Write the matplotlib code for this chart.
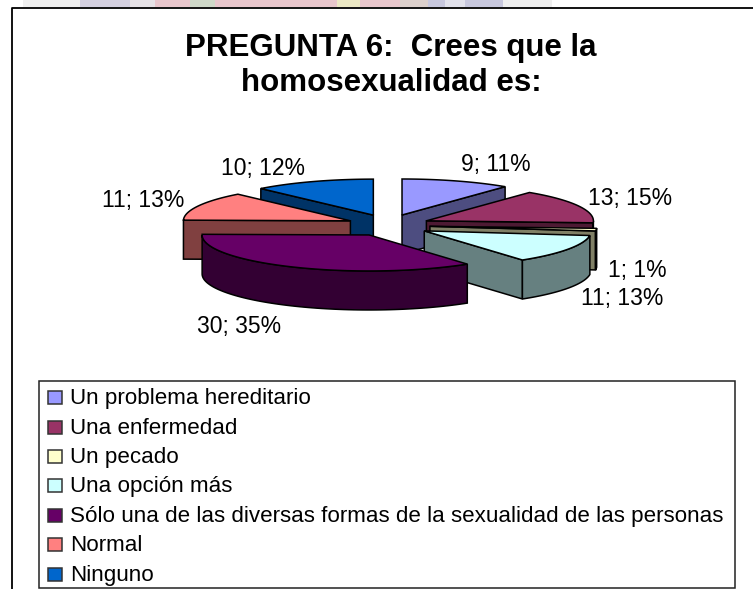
import numpy as np
import matplotlib
matplotlib.use("Agg")
import matplotlib.pyplot as plt
from matplotlib.patches import Polygon, Rectangle

categories = ["Un problema hereditario", "Una enfermedad", "Un pecado", "Una opción más",
              "Sólo una de las diversas formas de la sexualidad de las personas", "Normal", "Ninguno"]
values = [9, 13, 1, 11, 30, 11, 10]
percents = [11, 15, 1, 13, 35, 13, 12]
colors = ["#9999ff", "#993366", "#ffffcc", "#ccffff", "#660066", "#ff8080", "#0066cc"]
sides = ["#4d4d80", "#4d1a33", "#808066", "#668080", "#330033", "#804040", "#003366"]
draw_order = [6, 0, 5, 1, 2, 3, 4]
label_pos = [(496, 165), (630, 199), (637, 271), (622, 298), (239, 327), (143, 201), (263, 168)]

FONT = "Liberation Sans"
fig = plt.figure(figsize=(7.53, 5.89), dpi=100)
ax = fig.add_axes([0, 0, 1, 1])
ax.set_xlim(0, 753)
ax.set_ylim(589, 0)
ax.axis("off")

# faded band at the top
ax.add_patch(Rectangle((23, 0), 529, 7, fc="#efefef", ec="none", zorder=0))
for x0, w, c in [(80, 50, "#d4d0e0"), (130, 25, "#e6e2e6"), (155, 245, "#e8c6cc"), (190, 25, "#cfd8c8"),
                 (337, 23, "#ece8c4"), (400, 28, "#dcd0cc"), (428, 75, "#c8c8de"), (445, 20, "#e2e2ec")]:
    ax.add_patch(Rectangle((x0, 0), w, 7, fc=c, ec="none", zorder=0))

# chart frame
ax.plot([12, 12, 753], [589, 7.5, 7.5], color="black", lw=1.3, zorder=1)

# pie
cx, cy = 388.4, 225.3
rx, ry = 167, 36
ex, ey = 41.7, 10.9
depth = 39
total = sum(values)
edges = np.cumsum([0] + values) / total * 2 * np.pi


def pt(a):
    return rx * np.sin(a), -ry * np.cos(a)


z = 3
for i in draw_order:
    a0, a1 = edges[i], edges[i + 1]
    mid = (a0 + a1) / 2
    ax0 = cx + ex * np.sin(mid)
    ay0 = cy - ey * np.cos(mid)
    t = np.linspace(a0, a1, 80)
    xs, ys = pt(t)
    xs = xs + ax0
    ys = ys + ay0
    # radial faces that look towards the viewer
    for a, visible in ((a0, np.sin(a0) < -1e-6), (a1, np.sin(a1) > 1e-6)):
        if visible:
            px, py = pt(a)
            face = [(ax0, ay0), (ax0 + px, ay0 + py), (ax0 + px, ay0 + py + depth), (ax0, ay0 + depth)]
            ax.add_patch(Polygon(face, fc=sides[i], ec="black", lw=1.1, zorder=z))
    # outer wall, front half only
    lo, hi = max(a0, np.pi / 2), min(a1, 3 * np.pi / 2)
    if hi > lo:
        tt = np.linspace(lo, hi, 80)
        wx, wy = pt(tt)
        wx = wx + ax0
        wy = wy + ay0
        wall = np.r_[np.c_[wx, wy], np.c_[wx, wy + depth][::-1]]
        ax.add_patch(Polygon(wall, fc=sides[i], ec="black", lw=1.1, zorder=z))
    # top surface
    top = np.r_[[[ax0, ay0]], np.c_[xs, ys]]
    ax.add_patch(Polygon(top, fc=colors[i], ec="black", lw=1.1, zorder=z))
    z += 1

for v, p, (lx, ly) in zip(values, percents, label_pos):
    ax.text(lx, ly, f"{v}; {p}%", ha="center", va="center", fontsize=16.5, family=FONT, color="black", zorder=20)

# title
ax.text(391, 48, "PREGUNTA 6:  Crees que la", ha="center", va="center", fontsize=22.5, fontweight="bold", family=FONT, zorder=20)
ax.text(391, 83, "homosexualidad es:", ha="center", va="center", fontsize=22.5, fontweight="bold", family=FONT, zorder=20)

# legend
ax.add_patch(Rectangle((39.5, 381), 695.5, 207, fc="white", ec="#222222", lw=1.1, zorder=15))
for k, (name, c) in enumerate(zip(categories, colors)):
    yc = 397.7 + k * 29.4
    ax.add_patch(Rectangle((48, yc - 6.5), 14, 13, fc=c, ec="#333333", lw=1.1, zorder=16))
    ax.text(70, yc + 1, name, ha="left", va="center", fontsize=16.15, family=FONT, zorder=20)

fig.savefig("out.png", dpi=100)
